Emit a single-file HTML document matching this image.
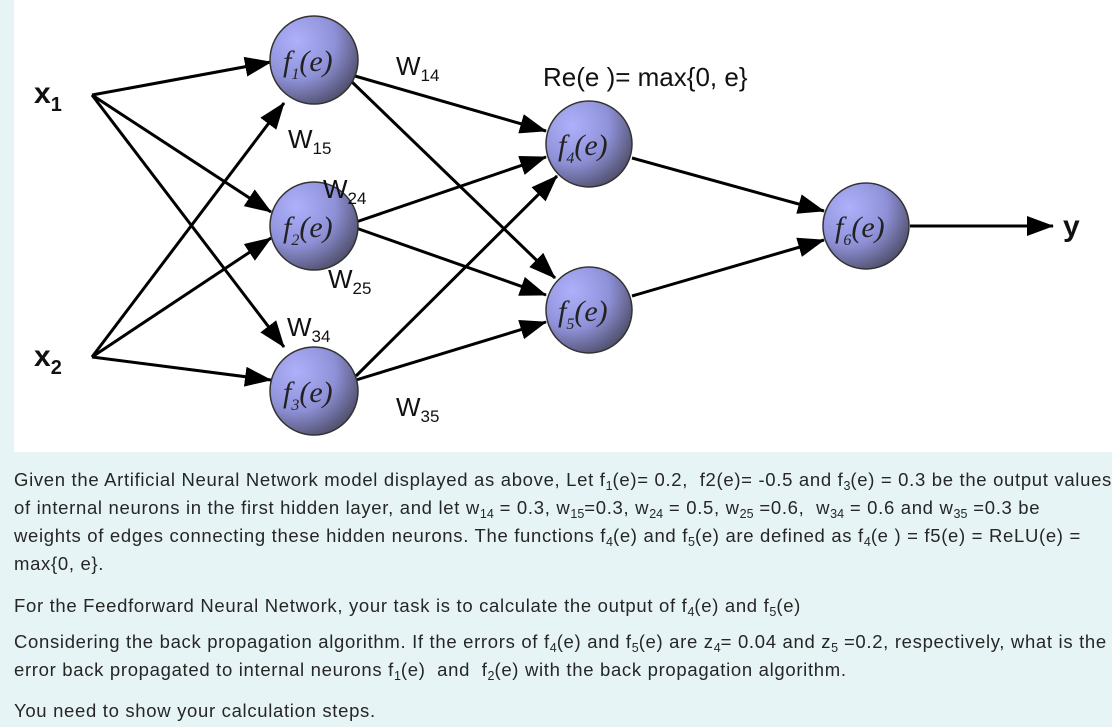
<!DOCTYPE html>
<html><head><meta charset="utf-8"><style>
html,body{margin:0;padding:0;}
body{width:1112px;height:727px;background:#e7f4f6;position:relative;overflow:hidden;font-family:"Liberation Sans",sans-serif;color:#262626;}
#box{position:absolute;left:14px;top:0;width:1098px;height:452px;background:#fff;}
svg{position:absolute;left:0;top:0;}
.t{position:absolute;left:14px;font-size:18.5px;letter-spacing:0.68px;white-space:nowrap;line-height:20px;}
.t sub{font-size:12.5px;vertical-align:-4px;line-height:0;letter-spacing:0;}
</style></head><body>
<div id="box"></div>
<svg width="1112" height="452" viewBox="0 0 1112 452">
<defs>
<radialGradient id="g" cx="30%" cy="28%" r="80%">
<stop offset="0" stop-color="#aeb0fb"/><stop offset="0.55" stop-color="#8f91d8"/><stop offset="1" stop-color="#4e4e6a"/>
</radialGradient>
<marker id="a" markerUnits="userSpaceOnUse" markerWidth="28" markerHeight="22" refX="26" refY="10" orient="auto">
<path d="M0,0 L27,10 L0,20 Z" fill="#000"/></marker>
</defs>
<g stroke="#000" stroke-width="3" fill="none" marker-end="url(#a)">
<line x1="92" y1="95" x2="271" y2="62"/>
<line x1="92" y1="95" x2="271" y2="212"/>
<line x1="92" y1="95" x2="284" y2="347"/>
<line x1="92" y1="357" x2="284" y2="103"/>
<line x1="92" y1="357" x2="271" y2="238"/>
<line x1="92" y1="357" x2="271" y2="380"/>
<line x1="355" y1="76" x2="546" y2="131"/>
<line x1="352" y1="82" x2="555" y2="278"/>
<line x1="356" y1="222" x2="546" y2="157"/>
<line x1="356" y1="228" x2="546" y2="295"/>
<line x1="356" y1="376" x2="557" y2="176"/>
<line x1="356" y1="380" x2="546" y2="322"/>
<line x1="632" y1="158" x2="824" y2="211"/>
<line x1="632" y1="296" x2="824" y2="240"/>
<line x1="910" y1="226" x2="1053" y2="226"/>
</g>
<g stroke="#333" stroke-width="1.5" fill="url(#g)">
<circle cx="314" cy="60" r="44"/>
<circle cx="314" cy="226" r="44"/>
<circle cx="314" cy="391" r="44"/>
<circle cx="589" cy="144" r="43"/>
<circle cx="589" cy="310" r="43"/>
<circle cx="866" cy="226" r="43"/>
</g>
<g font-family="Liberation Serif,serif" font-style="italic" font-size="30" fill="#222">
<text x="283" y="71">f<tspan font-size="16" dy="8">1</tspan><tspan dy="-8">(e)</tspan></text>
<text x="283" y="237">f<tspan font-size="16" dy="8">2</tspan><tspan dy="-8">(e)</tspan></text>
<text x="283" y="402">f<tspan font-size="16" dy="8">3</tspan><tspan dy="-8">(e)</tspan></text>
<text x="558" y="155">f<tspan font-size="16" dy="8">4</tspan><tspan dy="-8">(e)</tspan></text>
<text x="558" y="321">f<tspan font-size="16" dy="8">5</tspan><tspan dy="-8">(e)</tspan></text>
<text x="835" y="237">f<tspan font-size="16" dy="8">6</tspan><tspan dy="-8">(e)</tspan></text>
</g>
<g font-family="Liberation Sans,sans-serif" font-size="26" fill="#111">
<text x="396" y="75">W<tspan font-size="17" dy="6">14</tspan></text>
<text x="288" y="148">W<tspan font-size="17" dy="6">15</tspan></text>
<text x="323" y="198">W<tspan font-size="17" dy="6">24</tspan></text>
<text x="328" y="288">W<tspan font-size="17" dy="6">25</tspan></text>
<text x="287" y="336">W<tspan font-size="17" dy="6">34</tspan></text>
<text x="396" y="416">W<tspan font-size="17" dy="6">35</tspan></text>
<text x="543" y="86">Re(e )= max{0, e}</text>
</g>
<g font-family="Liberation Sans,sans-serif" font-weight="bold" font-size="30" fill="#111">
<text x="34" y="103">x<tspan font-size="20" dy="8">1</tspan></text>
<text x="34" y="366">x<tspan font-size="20" dy="8">2</tspan></text>
<text x="1063" y="236">y</text>
</g>
</svg>
<div class="t" style="top:470px">Given the Artificial Neural Network model displayed as above, Let f<sub>1</sub>(e)= 0.2,&nbsp; f2(e)= -0.5 and f<sub>3</sub>(e) = 0.3 be the output values</div>
<div class="t" style="top:498px">of internal neurons in the first hidden layer, and let w<sub>14</sub> = 0.3, w<sub>15</sub>=0.3, w<sub>24</sub> = 0.5, w<sub>25</sub> =0.6,&nbsp; w<sub>34</sub> = 0.6 and w<sub>35</sub> =0.3 be</div>
<div class="t" style="top:526px">weights of edges connecting these hidden neurons. The functions f<sub>4</sub>(e) and f<sub>5</sub>(e) are defined as f<sub>4</sub>(e ) = f5(e) = ReLU(e) =</div>
<div class="t" style="top:554px">max{0, e}.</div>
<div class="t" style="top:596px">For the Feedforward Neural Network, your task is to calculate the output of f<sub>4</sub>(e) and f<sub>5</sub>(e)</div>
<div class="t" style="top:632px">Considering the back propagation algorithm. If the errors of f<sub>4</sub>(e) and f<sub>5</sub>(e) are z<sub>4</sub>= 0.04 and z<sub>5</sub> =0.2, respectively, what is the</div>
<div class="t" style="top:660px">error back propagated to internal neurons f<sub>1</sub>(e)&nbsp; and&nbsp; f<sub>2</sub>(e) with the back propagation algorithm.</div>
<div class="t" style="top:701px">You need to show your calculation steps.</div>
</body></html>
